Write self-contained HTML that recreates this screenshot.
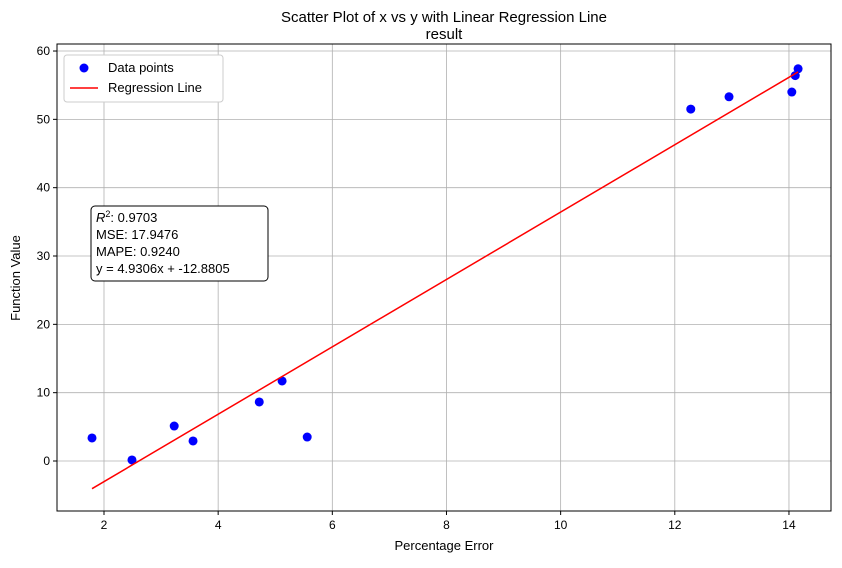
<!DOCTYPE html>
<html><head><meta charset="utf-8"><style>
body{margin:0;background:#fff;font-family:"Liberation Sans","DejaVu Sans",sans-serif;}
svg text{font-family:"Liberation Sans","DejaVu Sans",sans-serif;fill:#000;}
</style></head><body>
<svg id="chart" width="842" height="563" xmlns="http://www.w3.org/2000/svg">
<rect width="842" height="563" fill="#fff"/>
<text x="444" y="22" font-size="15" text-anchor="middle">Scatter Plot of x vs y with Linear Regression Line</text>
<text x="444" y="39" font-size="15" text-anchor="middle">result</text>
<g id="grid"></g><g id="ticks"></g><g id="marks"></g>
<rect x="57" y="44" width="774" height="467" fill="none" stroke="#000" stroke-width="1"/>
<text x="444" y="550" font-size="13" text-anchor="middle">Percentage Error</text>
<text x="20" y="278" font-size="13" text-anchor="middle" transform="rotate(-90 20 278)">Function Value</text>
<g>
<rect x="64" y="55" width="159" height="47" rx="3" fill="#fff" stroke="#ccc"/>
<circle cx="84" cy="68" r="4.5" fill="#0000ff"/>
<text x="108" y="72" font-size="13">Data points</text>
<line x1="70" y1="88" x2="98" y2="88" stroke="#ff0000" stroke-width="1.5"/>
<text x="108" y="92" font-size="13">Regression Line</text>
</g>
<g>
<rect x="91" y="206" width="177" height="75" rx="4" fill="#fff" stroke="#000"/>
<text x="96" y="222" font-size="13"><tspan font-style="italic">R</tspan><tspan font-size="9" dy="-5">2</tspan><tspan dy="5">: 0.9703</tspan></text>
<text x="96" y="239" font-size="13">MSE: 17.9476</text>
<text x="96" y="256" font-size="13">MAPE: 0.9240</text>
<text x="96" y="273" font-size="13">y = 4.9306x + -12.8805</text>
</g>
</svg>
<script>
const xValues=[1.79,2.49,3.23,3.56,4.72,5.12,5.56,12.28,12.95,14.05,14.11,14.16];
const yValues=[3.37,0.15,5.12,2.93,8.64,11.71,3.51,51.5,53.3,54.0,56.4,57.4];
const xTicks=[2,4,6,8,10,12,14];
const yTicks=[0,10,20,30,40,50,60];
const slope=4.9306, intercept=-12.8805;
const NS="http://www.w3.org/2000/svg";
const sx=v=>104+(v-2)*57.08;
const sy=v=>461-v*6.833;
function mk(tag,attrs,parent){const e=document.createElementNS(NS,tag);for(const k in attrs)e.setAttribute(k,attrs[k]);document.getElementById(parent).appendChild(e);return e;}
xTicks.forEach(t=>{
 const g=mk('line',{x1:sx(t),x2:sx(t),y1:44,y2:511,stroke:'#b0b0b0','stroke-width':0.8},'grid');
 
 
 mk('line',{x1:sx(t),x2:sx(t),y1:511,y2:515,stroke:'#000'},'ticks');
 const l=mk('text',{x:sx(t),y:529,'font-size':12,'text-anchor':'middle'},'ticks');l.textContent=t;
 
 
});
yTicks.forEach(t=>{
 const g=mk('line',{x1:57,x2:831,y1:sy(t),y2:sy(t),stroke:'#b0b0b0','stroke-width':0.8},'grid');
 
 
 mk('line',{x1:53,x2:57,y1:sy(t),y2:sy(t),stroke:'#000'},'ticks');
 const l=mk('text',{x:50,y:sy(t)+4,'font-size':12,'text-anchor':'end'},'ticks');l.textContent=t;
 
 
});
xValues.forEach((x,i)=>{
 const c=mk('circle',{cx:sx(x),cy:sy(yValues[i]),r:4.5,fill:'#0000ff'},'marks');
 
 
});
const x0=Math.min(...xValues),x1=Math.max(...xValues);
const ln=mk('line',{x1:sx(x0),y1:sy(slope*x0+intercept),x2:sx(x1),y2:sy(slope*x1+intercept),stroke:'#ff0000','stroke-width':1.5},'marks');


</script>
</body></html>
